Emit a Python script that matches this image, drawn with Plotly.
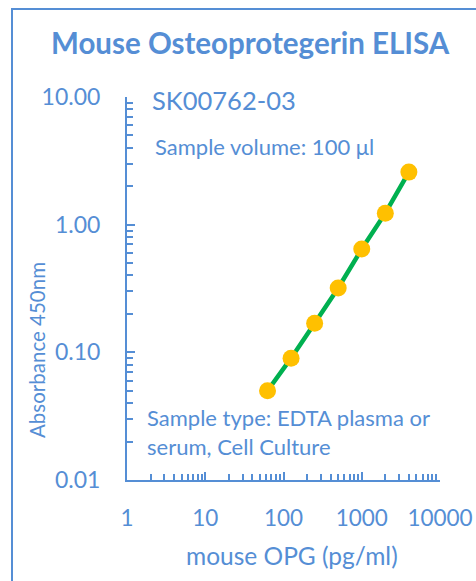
import plotly.graph_objects as go

concentration = [62.5, 125, 250, 500, 1000, 2000, 4000]
absorbance = [0.050, 0.090, 0.169, 0.319, 0.644, 1.23, 2.58]

x_tickvals = [1, 10, 100, 1000, 10000]
x_ticktext = ["1", "10", "100", "1000", "10000"]
y_tickvals = [0.01, 0.1, 1, 10]
y_ticktext = ["0.01", "0.10", "1.00", "10.00"]

BLUE = "#558ED5"
FONT = "Lato"

W, H = 476, 581
L, R, T, B = 127, 36, 97, 101
pw, ph = W - L - R, H - T - B

def px(x):
    return (x - L) / pw

def py(y):
    return (H - B - y) / ph

fig = go.Figure()
fig.add_trace(go.Scatter(
    x=concentration, y=absorbance, mode="lines+markers",
    line=dict(color="#00B050", width=4.5),
    marker=dict(color="#FFC000", size=17),
    showlegend=False,
))

fig.update_layout(
    width=W, height=H,
    margin=dict(l=L, r=R, t=T, b=B, autoexpand=False),
    paper_bgcolor="white", plot_bgcolor="white",
    font=dict(family=FONT, color=BLUE),
    xaxis=dict(
        type="log", range=[0, 4], showgrid=False, zeroline=False, automargin=False,
        showline=True, linecolor=BLUE, linewidth=2,
        tickvals=x_tickvals, ticktext=x_ticktext,
        ticks="inside", ticklen=8, tickcolor=BLUE, tickwidth=1.5,
        minor=dict(ticks="inside", ticklen=6, tickcolor=BLUE, tickwidth=1.5, dtick="D1"),
        tickfont=dict(size=22.5, color=BLUE),
        ticklabelstandoff=17,
    ),
    yaxis=dict(
        type="log", range=[-2, 1], showgrid=False, zeroline=False, automargin=False,
        showline=True, linecolor=BLUE, linewidth=2,
        tickvals=y_tickvals, ticktext=y_ticktext,
        ticks="inside", ticklen=8, tickcolor=BLUE, tickwidth=1.5,
        minor=dict(ticks="inside", ticklen=6, tickcolor=BLUE, tickwidth=1.5, dtick="D1"),
        tickfont=dict(size=23, color=BLUE),
        ticklabelstandoff=20,
    ),
    shapes=[dict(type="rect", xref="paper", yref="paper",
                 x0=px(12), x1=px(500), y0=py(620), y1=py(9),
                 line=dict(color=BLUE, width=2), fillcolor="rgba(0,0,0,0)")],
    annotations=[
        dict(text="<b>Mouse Osteoprotegerin ELISA</b>", xref="paper", yref="paper",
             x=px(250), y=py(43), xanchor="center", yanchor="middle", showarrow=False,
             font=dict(size=29.5, color=BLUE)),
        dict(text="SK00762-03", xref="paper", yref="paper",
             x=px(150), y=py(100), xanchor="left", yanchor="middle", showarrow=False,
             font=dict(size=25.5, color=BLUE)),
        dict(text="Sample volume: 100 μl", xref="paper", yref="paper",
             x=px(153), y=py(146), xanchor="left", yanchor="middle", showarrow=False,
             font=dict(size=22, color=BLUE)),
        dict(text="Sample type: EDTA plasma or<br>serum, Cell Culture", xref="paper", yref="paper",
             x=px(145), y=py(432), xanchor="left", yanchor="middle", align="left",
             showarrow=False, font=dict(size=22, color=BLUE)),
        dict(text="mouse OPG (pg/ml)", xref="paper", yref="paper",
             x=px(292), y=py(555), xanchor="center", yanchor="middle", showarrow=False,
             font=dict(size=24.5, color=BLUE)),
        dict(text="Absorbance 450nm", xref="paper", yref="paper", textangle=-90,
             x=px(37), y=py(350), xanchor="center", yanchor="middle", showarrow=False,
             font=dict(size=20.5, color=BLUE)),
    ],
)

fig.write_html(
    "out.html",
    config={"displayModeBar": False},
    post_script="document.body.style.margin='0';document.body.style.overflow='hidden';",
)
